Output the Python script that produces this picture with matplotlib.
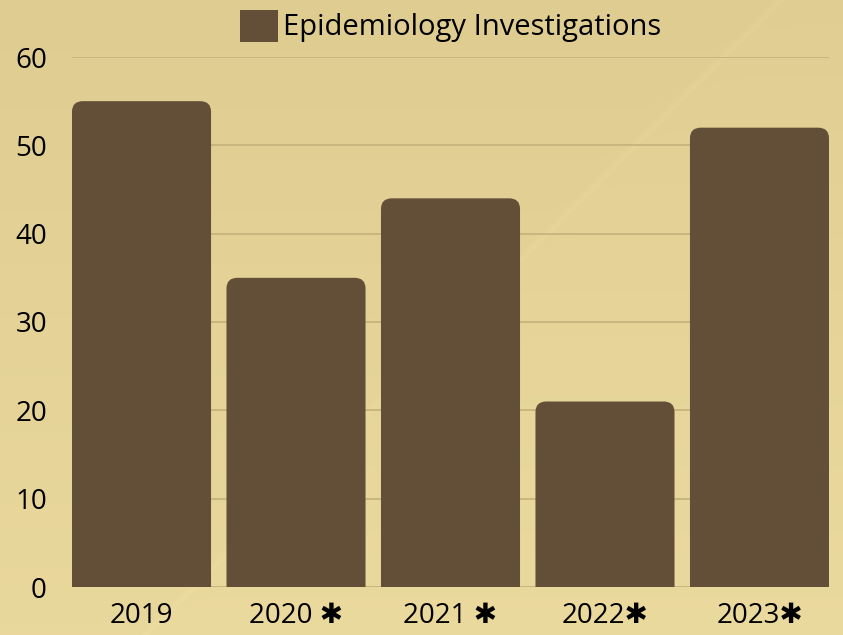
import matplotlib
matplotlib.use("Agg")
import matplotlib.pyplot as plt
from matplotlib.patches import FancyBboxPatch, Patch
import numpy as np

# --- dados ---
anos = ["2019", "2020 \u2731", "2021 \u2731", "2022\u2731", "2023\u2731"]
investigacoes = [55, 35, 44, 21, 52]
y_ticks = [0, 10, 20, 30, 40, 50, 60]

COR_BARRA = "#634F38"
COR_GRADE = "#C7B37C"

plt.rcParams['font.family'] = ['Open Sans', 'DejaVu Sans']

W, H = 843, 635
fig = plt.figure(figsize=(W / 100, H / 100), dpi=100)

# fundo em gradiente com faixa diagonal clara (x + y = 780 px)
bg = fig.add_axes([0, 0, 1, 1], zorder=-10)
py, px = np.mgrid[0:H, 0:W]
c_top = np.array([0.875, 0.800, 0.565])
c_bot = np.array([0.914, 0.847, 0.612])
t = (py / H)[..., None]
img = c_top * (1 - t) + c_bot * t
diag = (px + py - 780) / np.sqrt(2)
img = img + (np.exp(-(diag / 3.0) ** 2) * 0.012)[..., None]
img = img + (0.006 / (1 + np.exp(-diag / 4)))[..., None]
bg.imshow(np.clip(img, 0, 1), aspect='auto', extent=[0, 1, 0, 1], origin='upper')
bg.axis('off')

ax = fig.add_axes([72 / W, 48 / H, 757 / W, 530 / H])
ax.patch.set_alpha(0)

x = np.arange(len(anos))
largura = 0.9
raio = 0.07
asp = 17.0
for xi, v in zip(x, investigacoes):
    p = FancyBboxPatch((xi - largura / 2 + raio, -5 + raio * asp),
                       largura - 2 * raio, v + 5 - 2 * raio * asp,
                       boxstyle=f"round,pad={raio}", mutation_aspect=asp,
                       facecolor=COR_BARRA, edgecolor='none', zorder=3)
    ax.add_patch(p)

ax.set_xlim(-largura / 2, len(anos) - 1 + largura / 2)
ax.set_ylim(0, 60)
ax.set_yticks(y_ticks)
ax.set_xticks(x)
ax.set_xticklabels(anos)
ax.tick_params(axis='both', length=0, labelsize=20, colors='black')
ax.tick_params(axis='y', pad=18)
ax.tick_params(axis='x', pad=11)
for lab in ax.get_xticklabels() + ax.get_yticklabels():
    lab.set_fontweight('medium')
ax.grid(axis='y', color=COR_GRADE, linewidth=1.3, zorder=0)
for s in ax.spines.values():
    s.set_visible(False)

ax.legend(handles=[Patch(facecolor=COR_BARRA, label="Epidemiology Investigations")],
          loc='lower center', bbox_to_anchor=(0.5, 1.0), frameon=False,
          prop={'size': 21, 'weight': 'medium'},
          handlelength=1.3, handleheight=1.3, handletextpad=0.15,
          borderaxespad=0.1)

fig.savefig("out.png", dpi=100)
